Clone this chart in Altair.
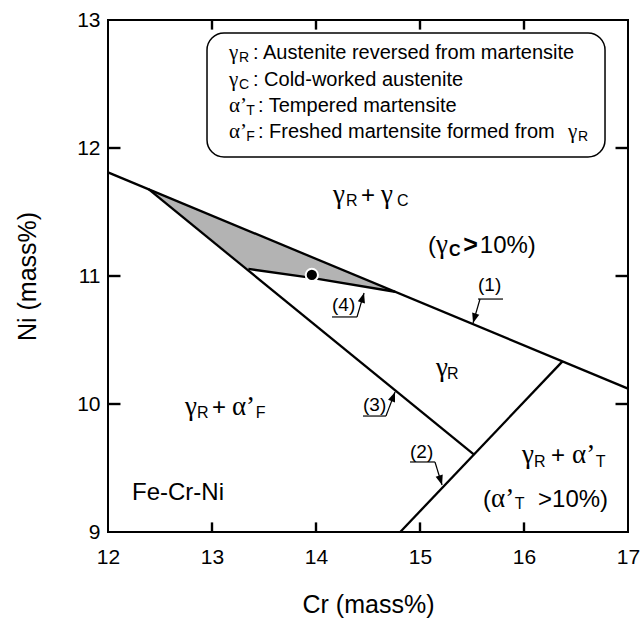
import altair as alt
import pandas as pd

FONT = "Liberation Sans"
GREEK = "Liberation Serif"

# ---------------- data ----------------
x_ticks = [12, 13, 14, 15, 16, 17]
y_ticks = [9, 10, 11, 12, 13]
x_inner_ticks = [13, 14, 15, 16]
y_inner_ticks = [10, 11, 12]

# phase boundaries (Cr, Ni)
line1_cr = [12.0, 17.0]
line1_ni = [11.81, 10.12]
line2_cr = [14.81, 16.37]
line2_ni = [9.0, 10.333]
line3_cr = [12.39, 15.52]
line3_ni = [11.678, 9.605]
line4_cr = [13.35, 13.96, 14.76]
line4_ni = [11.055, 10.985, 10.877]

# shaded region
gray_cr = [12.39, 13.35, 13.96, 14.76]
gray_top = [11.678, 11.354, 11.147, 10.877]
gray_bot = [11.678, 11.055, 10.985, 10.877]

# measured alloy
point_cr = [13.96]
point_ni = [11.008]

# leader lines of (1)..(4): underline + pointer
lead_names = ["u1", "u1", "p1", "p1", "u4", "u4", "p4", "p4",
              "u3", "u3", "p3", "p3", "u2", "u2", "p2", "p2"]
lead_cr = [15.558, 15.798, 15.577, 15.510, 14.154, 14.394, 14.394, 14.462,
           14.452, 14.673, 14.673, 14.760, 14.904, 15.144, 15.144, 15.212]
lead_ni = [10.820, 10.820, 10.820, 10.633, 10.680, 10.680, 10.680, 10.867,
           9.906, 9.906, 9.906, 10.094, 9.547, 9.547, 9.547, 9.367]
head_cr = [15.510, 14.462, 14.760, 15.212]
head_ni = [10.633, 10.867, 10.094, 9.367]
head_angle = [196, 16, 21, 163]

num_text = ["(1)", "(4)", "(3)", "(2)"]
num_cr = [15.558, 14.154, 14.452, 14.904]
num_ni = [10.883, 10.727, 9.945, 9.578]

# region labels: Greek letters, Latin pieces, subscripts
greek_text = ["γ", "γ", "γ", "γ", "γ", "α’", "γ", "α’", "α’"]
greek_cr = [14.163, 14.625, 15.154, 15.154, 12.740, 13.192, 15.981, 16.462, 15.683]
greek_ni = [11.570, 11.570, 11.180, 10.219, 9.914, 9.914, 9.539, 9.539, 9.195]
latin_text = ["+", "(", "10%)", "+", "+", "(", ">10%)"]
latin_cr = [14.433, 15.077, 15.575, 13.000, 16.260, 15.606, 16.135]
latin_ni = [11.570, 11.180, 11.180, 9.914, 9.539, 9.195, 9.195]
sub_text = ["R", "C", "R", "R", "F", "R", "T", "T"]
sub_cr = [14.288, 14.779, 15.260, 12.856, 13.420, 16.096, 16.690, 15.910]
sub_ni = [11.547, 11.547, 10.195, 9.891, 9.891, 9.508, 9.508, 9.180]
bold_text = [">"]
bold_cr = [15.415]
bold_ni = [11.180]
bold_sub_text = ["C"]
bold_sub_cr = [15.278]
bold_sub_ni = [11.156]

sys_text = ["Fe-Cr-Ni"]
sys_cr = [12.231]
sys_ni = [9.25]

# legend box
box_cr = [12.952]
box_cr2 = [16.779]
box_ni = [12.898]
box_ni2 = [11.930]
leg_greek = ["γ", "γ", "α’", "α’", "γ"]
leg_greek_cr = [13.163, 13.163, 13.163, 13.163, 16.423]
leg_greek_ni = [12.695, 12.484, 12.281, 12.078, 12.078]
leg_text = [": Austenite reversed from martensite",
            ": Cold-worked austenite",
            ": Tempered martensite",
            ": Freshed martensite formed from"]
leg_cr = [13.394, 13.394, 13.442, 13.442]
leg_ni = [12.695, 12.484, 12.281, 12.078]
legsub_text = ["R", "C", "T", "F", "R"]
legsub_cr = [13.260, 13.260, 13.330, 13.330, 16.520]
legsub_ni = [12.672, 12.461, 12.258, 12.055, 12.055]

# inward tick length in axis units
XT_LEN = 0.075   # vertical ticks on bottom / top (Ni units)
YT_LEN = 0.12    # horizontal ticks on left / right (Cr units)

# ---------------- tables ----------------
lines = pd.concat([
    pd.DataFrame({"seg": "1", "cr": line1_cr, "ni": line1_ni}),
    pd.DataFrame({"seg": "2", "cr": line2_cr, "ni": line2_ni}),
    pd.DataFrame({"seg": "3", "cr": line3_cr, "ni": line3_ni}),
    pd.DataFrame({"seg": "4", "cr": line4_cr, "ni": line4_ni}),
], ignore_index=True)
lines["o"] = range(len(lines))
gray = pd.DataFrame({"cr": gray_cr, "ni": gray_top, "bot": gray_bot})
pt = pd.DataFrame({"cr": point_cr, "ni": point_ni})
leads = pd.DataFrame({"seg": lead_names, "cr": lead_cr, "ni": lead_ni})
leads["o"] = range(len(leads))
heads = pd.DataFrame({"cr": head_cr, "ni": head_ni, "ang": head_angle})

ymin, ymax = y_ticks[0], y_ticks[-1]
xmin, xmax = x_ticks[0], x_ticks[-1]
tk_cr, tk_ni, tk_cr2, tk_ni2 = [], [], [], []
for v in x_inner_ticks:
    tk_cr += [v, v]
    tk_cr2 += [v, v]
    tk_ni += [ymin, ymax]
    tk_ni2 += [ymin + XT_LEN, ymax - XT_LEN]
for v in y_inner_ticks:
    tk_cr += [xmin, xmax]
    tk_cr2 += [xmin + YT_LEN, xmax - YT_LEN]
    tk_ni += [v, v]
    tk_ni2 += [v, v]
tick_df = pd.DataFrame({"cr": tk_cr, "ni": tk_ni, "cr2": tk_cr2, "ni2": tk_ni2})


def tdf(t, c, n):
    return pd.DataFrame({"t": t, "cr": c, "ni": n})


xs = alt.Scale(domain=[xmin, xmax], nice=False, zero=False)
ys = alt.Scale(domain=[ymin, ymax], nice=False, zero=False)
x_axis = alt.Axis(values=x_ticks, grid=False, domain=False, ticks=False, tickSize=0,
                  labelFontSize=21, labelFont=FONT, labelPadding=14, labelFlush=False,
                  titleFontSize=25, titleFont=FONT, titleFontWeight="normal",
                  titlePadding=25, titleColor="black", labelColor="black")
y_axis = alt.Axis(values=y_ticks, grid=False, domain=False, ticks=False, tickSize=0,
                  labelFontSize=21, labelFont=FONT, labelPadding=8,
                  titleFontSize=25, titleFont=FONT, titleFontWeight="normal",
                  titlePadding=36, titleColor="black", labelColor="black")
X = alt.X("cr:Q", scale=xs, axis=x_axis, title="Cr (mass%)")
Y = alt.Y("ni:Q", scale=ys, axis=y_axis, title="Ni (mass%)")

area = alt.Chart(gray).mark_area(color="#b3b3b3", opacity=1).encode(
    x=X, y=Y, y2="bot:Q")

bound = alt.Chart(lines).mark_line(color="black", strokeWidth=2.3).encode(
    x=X, y=Y, detail="seg:N", order="o:Q")

leader = alt.Chart(leads).mark_line(color="black", strokeWidth=1.2).encode(
    x=X, y=Y, detail="seg:N", order="o:Q")

tickmarks = alt.Chart(tick_df).mark_rule(color="black", strokeWidth=2.4, opacity=1).encode(
    x=X, y=Y, x2="cr2:Q", y2="ni2:Q")

arrow = alt.Chart(heads).mark_point(
    shape="M0,0L-0.38,1L0.38,1Z", filled=True, color="black", size=380, opacity=1,
    strokeWidth=0
).encode(x=X, y=Y, angle=alt.Angle("ang:Q", scale=None))

dot = alt.Chart(pt).mark_point(filled=True, color="black", stroke="white",
                                strokeWidth=2, size=150, opacity=1).encode(x=X, y=Y)

box = alt.Chart(pd.DataFrame({"cr": box_cr, "cr2": box_cr2, "ni": box_ni, "ni2": box_ni2})).mark_rect(
    fill="white", stroke="black", strokeWidth=1.5, cornerRadius=17).encode(
    x=X, x2="cr2:Q", y=Y, y2="ni2:Q")


def txt(df, size, weight="normal", font=FONT):
    return alt.Chart(df).mark_text(align="left", baseline="alphabetic", font=font,
                                   fontSize=size, fontWeight=weight, color="black").encode(
        x=X, y=Y, text="t:N")


chart = alt.layer(
    area, bound, leader, arrow, dot, box,
    txt(tdf(greek_text, greek_cr, greek_ni), 27, font=GREEK),
    txt(tdf(latin_text, latin_cr, latin_ni), 24),
    txt(tdf(sub_text, sub_cr, sub_ni), 16),
    txt(tdf(bold_text, bold_cr, bold_ni), 25, "bold"),
    txt(tdf(bold_sub_text, bold_sub_cr, bold_sub_ni), 16, "bold"),
    txt(tdf(sys_text, sys_cr, sys_ni), 24),
    txt(tdf(num_text, num_cr, num_ni), 19),
    txt(tdf(leg_greek, leg_greek_cr, leg_greek_ni), 21, font=GREEK),
    txt(tdf(leg_text, leg_cr, leg_ni), 20),
    txt(tdf(legsub_text, legsub_cr, legsub_ni), 14),
    tickmarks,
).properties(
    width=520, height=512,
    autosize=alt.AutoSizeParams(type="none"),
    padding={"left": 108, "top": 20, "right": 16, "bottom": 93},
    background="white",
).configure_view(stroke="black", strokeWidth=2)

chart.save("out.html", embed_options={"renderer": "svg", "actions": False})
